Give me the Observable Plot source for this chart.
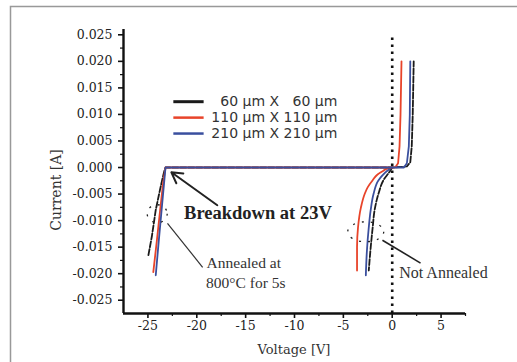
<!DOCTYPE html>
<html>
<head>
<meta charset="utf-8">
<script src="https://cdn.jsdelivr.net/npm/d3@7"></script>
<script src="https://cdn.jsdelivr.net/npm/@observablehq/plot@0.6"></script>
<style>
  body { margin: 0; background: #fff; }
  #chart { position: relative; width: 517px; height: 362px; }
</style>
</head>
<body>
<div id="chart"></div>
<script>
// Diode I–V curves for three device sizes (voltage in V, current in A)
const sizes = ["60 µm X 60 µm", "110 µm X 110 µm", "210 µm X 210 µm"];
const legendLabels = ["\u200760 µm X \u200760 µm", "110 µm X 110 µm", "210 µm X 210 µm"];
const colors = ["#1a1a1a", "#e8442a", "#3a4f9e"];

// Annealed devices: reverse breakdown near -23 V, flat, then forward turn-on
const annealed60V = [-24.95, -24.6, -24.2, -23.8, -23.5, -23.3, -23.2, 0.0, 1.5, 1.85, 2.0, 2.1, 2.2];
const annealed60I = [-0.0165, -0.013, -0.008, -0.0045, -0.002, -0.0005, 0, 0, 0.0002, 0.001, 0.004, 0.010, 0.020];
const annealed110V = [-24.45, -24.1, -23.75, -23.45, -23.2, 0.3, 0.6, 0.75, 0.85, 0.95];
const annealed110I = [-0.0197, -0.014, -0.008, -0.003, 0, 0, 0.0008, 0.004, 0.010, 0.020];
const annealed210V = [-24.2, -23.9, -23.6, -23.35, -23.2, 1.2, 1.5, 1.7, 1.8, 1.85];
const annealed210I = [-0.0203, -0.014, -0.008, -0.003, 0, 0, 0.0008, 0.004, 0.010, 0.020];

// Non-annealed devices: soft reverse leakage below 0 V
const raw60V = [0, -0.2, -0.9, -1.4, -1.8, -2.0, -2.2, -2.4];
const raw60I = [0, -0.0006, -0.0024, -0.0049, -0.008, -0.0113, -0.015, -0.0194];
const raw110V = [0, -0.5, -0.9, -1.5, -2.0, -2.5, -2.8, -3.2, -3.5, -3.6, -3.6];
const raw110I = [0, -0.0002, -0.0006, -0.0013, -0.0024, -0.0037, -0.0049, -0.0075, -0.0113, -0.015, -0.0194];
const raw210V = [0, -0.5, -1.0, -1.4, -1.9, -2.2, -2.4, -2.6, -2.7];
const raw210I = [0, -0.0006, -0.0015, -0.0024, -0.0049, -0.008, -0.0113, -0.016, -0.0203];

// Axis ticks
const xTicks = [-25, -20, -15, -10, -5, 0, 5];
const xMinor = [-22.5, -17.5, -12.5, -7.5, -2.5, 2.5, 7.5];
const yTicks = [-0.025, -0.020, -0.015, -0.010, -0.005, 0, 0.005, 0.010, 0.015, 0.020, 0.025];
const yMinor = [-0.0225, -0.0175, -0.0125, -0.0075, -0.0025, 0.0025, 0.0075, 0.0125, 0.0175, 0.0225];

const xDomain = [-27.5, 7.5];
const yDomain = [-0.0275, 0.026];

function rows(vs, is, size) {
  return vs.map((v, k) => ({ v, i: is[k], size }));
}
const annealed = [
  rows(annealed60V, annealed60I, sizes[0]),
  rows(annealed110V, annealed110I, sizes[1]),
  rows(annealed210V, annealed210I, sizes[2])
];
const nonAnnealed = [
  rows(raw60V, raw60I, sizes[0]),
  rows(raw110V, raw110I, sizes[1]),
  rows(raw210V, raw210I, sizes[2])
];

// Annotation anchors (data units)
const breakdownArrow = [{ x1: -17.9, y1: -0.0071, x2: -22.6, y2: -0.0009 }];
const annealedLeader = [{ x1: -23.0, y1: -0.0105, x2: -19.4, y2: -0.0188 }];
const rawLeader = [{ x1: -1.0, y1: -0.0137, x2: 2.9, y2: -0.0180 }];
const ellipses = [
  { v: -24.0, i: -0.0088, rx: 10, ry: 9 },
  { v: -2.66, i: -0.0122, rx: 18, ry: 10 }
];
const legendY = [0.0124, 0.0094, 0.0064];

const fmt = d3.format(".3f");
const serif = "'DejaVu Serif', serif";
const times = "'Liberation Serif', 'Times New Roman', serif";

const marks = [
  // dotted reference at 0 V
  Plot.ruleX([0], { y1: yDomain[0], y2: 0.0252, stroke: "#111", strokeWidth: 2.6, strokeDasharray: "2.6,4.4" }),
  // axes
  Plot.axisY(yTicks, { tickSize: 5, tickPadding: 6, tickFormat: d => fmt(d).replace("\u2212", "-"), label: null,
    fontSize: 12.5, fill: "#222", stroke: "#111", strokeWidth: 1.6 }),
  Plot.axisY(yMinor, { tickSize: 3, tickFormat: null, text: null, label: null, stroke: "#111", strokeWidth: 1.2 }),
  Plot.axisX(xTicks, { tickSize: 5, tickPadding: 3, tickFormat: d => String(d).replace("\u2212", "-"), label: null,
    fontSize: 12.5, fill: "#222", stroke: "#111", strokeWidth: 1.6 }),
  Plot.axisX(xMinor, { tickSize: 3, tickFormat: null, text: null, label: null, stroke: "#111", strokeWidth: 1.2 }),
  Plot.ruleX([xDomain[0]], { stroke: "#111", strokeWidth: 2.4 }),
  Plot.ruleY([yDomain[0]], { stroke: "#111", strokeWidth: 2.4 }),
];

// curves
[0, 1, 2].forEach(k => {
  const dash = k === 0 ? "6,2" : null;
  marks.push(Plot.line(nonAnnealed[k], { x: "v", y: "i", stroke: colors[k], strokeWidth: 1.8, strokeDasharray: dash, curve: "monotone-y" }));
});
[0, 1, 2].forEach(k => {
  const dash = k === 0 ? "6,2" : null;
  marks.push(Plot.line(annealed[k], { x: "v", y: "i", stroke: colors[k], strokeWidth: 1.8, strokeDasharray: dash }));
});

// annotations
marks.push(
  Plot.arrow(breakdownArrow, { x1: "x1", y1: "y1", x2: "x2", y2: "y2", stroke: "#222", strokeWidth: 2, headLength: 9 }),
  Plot.link(annealedLeader, { x1: "x1", y1: "y1", x2: "x2", y2: "y2", stroke: "#333", strokeWidth: 1.2 }),
  Plot.link(rawLeader, { x1: "x1", y1: "y1", x2: "x2", y2: "y2", stroke: "#222", strokeWidth: 1.6 }),
  Plot.text(["Breakdown at 23V"], { x: -21.3, y: -0.0085, textAnchor: "start", fontFamily: times, fontWeight: "bold", fontSize: 18.5, fill: "#222" }),
  Plot.text(["Annealed at"], { x: -19.0, y: -0.0180, textAnchor: "start", fontFamily: times, fontSize: 15.5, fill: "#333" }),
  Plot.text(["800°C for 5s"], { x: -19.05, y: -0.0218, textAnchor: "start", fontFamily: times, fontSize: 15.5, fill: "#333" }),
  Plot.text(["Not Annealed"], { x: 0.72, y: -0.0199, textAnchor: "start", fontFamily: times, fontSize: 16, fill: "#333" })
);

// legend
legendLabels.forEach((label, k) => {
  marks.push(
    Plot.link([0], { x1: -22.4, x2: -19.3, y1: legendY[k], y2: legendY[k], stroke: colors[k], strokeWidth: k === 0 ? 3 : 2.5 }),
    Plot.text([label], { x: -5.62, y: legendY[k], textAnchor: "end", fontFamily: "'DejaVu Sans', sans-serif", fontSize: 14, fill: "#333" })
  );
});

const plot = Plot.plot({
  width: 517,
  height: 362,
  marginLeft: 123,
  marginRight: 52,
  marginTop: 29,
  marginBottom: 49,
  x: { domain: xDomain },
  y: { domain: yDomain },
  style: { fontFamily: serif, fontSize: "12px", background: "transparent", overflow: "visible" },
  marks
});

const svg = d3.select(plot);
const sx = plot.scale("x"), sy = plot.scale("y");

// dashed rings around the measured branches
svg.append("g").selectAll("ellipse").data(ellipses).join("ellipse")
  .attr("cx", d => sx.apply(d.v)).attr("cy", d => sy.apply(d.i))
  .attr("rx", d => d.rx).attr("ry", d => d.ry)
  .attr("fill", "none").attr("stroke", "#222").attr("stroke-width", 1.3).attr("stroke-dasharray", "2,7");

// axis titles
svg.append("text").attr("transform", "translate(57,190) rotate(-90)")
  .attr("text-anchor", "middle").attr("dominant-baseline", "middle")
  .attr("font-family", serif).attr("font-size", 14).attr("fill", "#333").text("Current [A]");
svg.append("text").attr("x", 294).attr("y", 350)
  .attr("text-anchor", "middle").attr("dominant-baseline", "middle")
  .attr("font-family", serif).attr("font-size", 13).attr("fill", "#333").text("Voltage [V]");

// page frame
svg.append("path").attr("d", "M10.5,362V6.5H517").attr("fill", "none").attr("stroke", "#999").attr("stroke-width", 1.5);

document.getElementById("chart").appendChild(plot);
</script>
</body>
</html>
